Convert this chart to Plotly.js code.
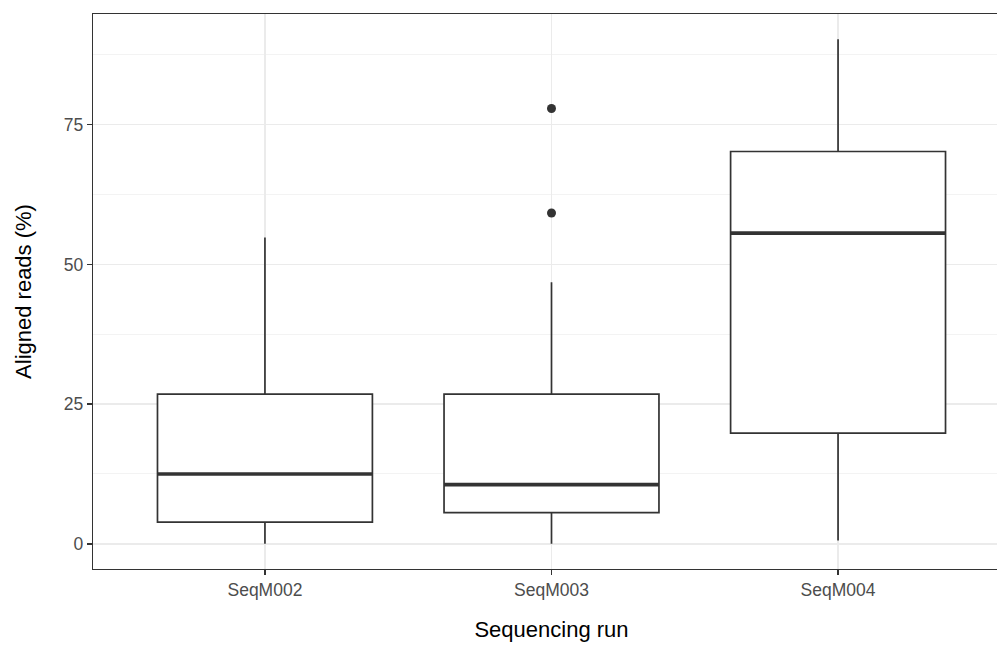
<!DOCTYPE html>
<html>
<head>
<meta charset="utf-8">
<script src="https://cdn.plot.ly/plotly-3.0.1.min.js"></script>
<style>
  html, body { margin: 0; padding: 0; overflow: hidden; background: #fff; }
  #chart { width: 1012px; height: 646px; }
</style>
</head>
<body>
<div id="chart"></div>
<script>
// ---- data ----
const runs = ['SeqM002', 'SeqM003', 'SeqM004'];
const lowerWhisker = [0.0, 0.0, 0.6];
const q1Values = [3.9, 5.6, 19.8];
const medianValues = [12.5, 10.6, 55.6];
const q3Values = [26.8, 26.8, 70.2];
const upperWhisker = [54.8, 46.8, 90.3];
const outlierRuns = ['SeqM003', 'SeqM003'];
const outlierValues = [59.2, 77.9];
const yTickValues = [0, 25, 50, 75];
const yTickLabels = ['0', '25', '50', '75'];

const boxWidth = 0.75;
const lineColor = '#333333';

const boxTrace = {
  type: 'box',
  x: runs,
  q1: q1Values,
  median: medianValues,
  q3: q3Values,
  lowerfence: lowerWhisker,
  upperfence: upperWhisker,
  width: boxWidth,
  fillcolor: '#ffffff',
  line: { color: lineColor, width: 1.7 },
  whiskerwidth: 0,
  boxpoints: false,
  hoverinfo: 'skip',
  showlegend: false
};

const outlierTrace = {
  type: 'scatter',
  mode: 'markers',
  x: outlierRuns,
  y: outlierValues,
  marker: { color: lineColor, size: 9 },
  hoverinfo: 'skip',
  showlegend: false
};

// thicker median bars (ggplot style), placed through the axes
const medianShapes = runs.map((r, i) => ({
  type: 'line',
  xref: 'x', yref: 'y',
  x0: i - boxWidth / 2, x1: i + boxWidth / 2,
  y0: medianValues[i], y1: medianValues[i],
  line: { color: lineColor, width: 3.6 },
  layer: 'above'
}));

const layout = {
  width: 1012,
  height: 646,
  margin: { l: 93, r: 2, t: 14, b: 77 },
  paper_bgcolor: '#ffffff',
  plot_bgcolor: '#ffffff',
  font: { family: 'Arial, "Liberation Sans", sans-serif', color: '#000000' },
  showlegend: false,
  shapes: medianShapes,
  xaxis: {
    type: 'category',
    categoryorder: 'array',
    categoryarray: runs,
    range: [-0.6, 2.6],
    showgrid: true,
    gridcolor: '#EBEBEB',
    gridwidth: 1.4,
    zeroline: false,
    showline: true,
    linecolor: lineColor,
    linewidth: 1.2,
    mirror: true,
    ticks: 'outside',
    ticklen: 5,
    tickwidth: 1.4,
    tickcolor: lineColor,
    tickfont: { size: 17.5, color: '#4D4D4D' },
    title: { text: 'Sequencing run', font: { size: 22, color: '#000000' }, standoff: 22 }
  },
  yaxis: {
    range: [-4.5, 94.8],
    tickmode: 'array',
    tickvals: yTickValues,
    ticktext: yTickLabels,
    showgrid: true,
    gridcolor: '#EBEBEB',
    gridwidth: 1.4,
    minor: { dtick: 12.5, tick0: 0, showgrid: true, gridcolor: '#F0F0F0', gridwidth: 0.8, ticks: '' },
    zeroline: false,
    showline: true,
    linecolor: lineColor,
    linewidth: 1.2,
    mirror: true,
    ticks: 'outside',
    ticklen: 5,
    tickwidth: 1.4,
    tickcolor: lineColor,
    tickfont: { size: 17.5, color: '#4D4D4D' },
    title: { text: 'Aligned reads (%)', font: { size: 22, color: '#000000' }, standoff: 26 }
  }
};

Plotly.newPlot('chart', [boxTrace, outlierTrace], layout, { staticPlot: true, displayModeBar: false });
</script>
</body>
</html>
